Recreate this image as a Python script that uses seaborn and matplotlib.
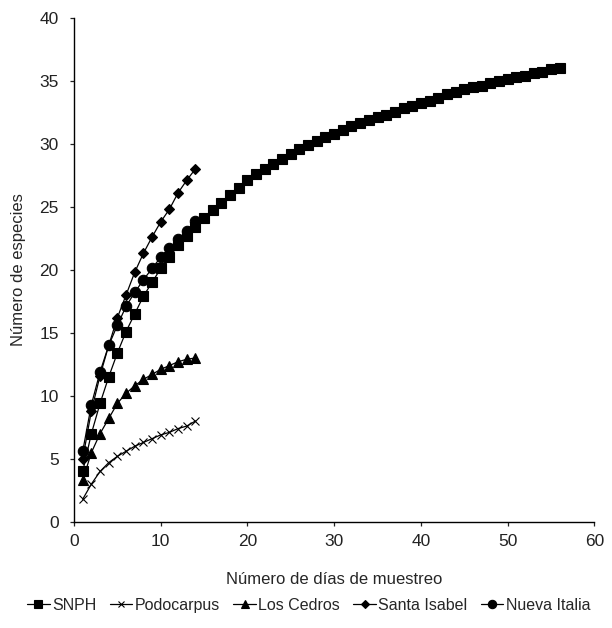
import matplotlib
matplotlib.use("Agg")
import matplotlib.pyplot as plt
import pandas as pd
import seaborn as sns

sns.set_style("ticks")
plt.rcParams["font.family"] = ["Liberation Sans", "DejaVu Sans"]

# curvas de acumulación de especies
days_short = list(range(1, 15))
days_snph = list(range(1, 57))

snph = [4.0, 7.0, 9.4, 11.5, 13.4, 15.1, 16.5, 17.9, 19.0, 20.1, 21.0, 22.0, 22.7, 23.4,
        24.1, 24.7, 25.3, 25.9, 26.5, 27.1, 27.6, 28.0, 28.4, 28.8, 29.2, 29.6, 29.9, 30.2,
        30.5, 30.8, 31.1, 31.4, 31.6, 31.9, 32.1, 32.3, 32.5, 32.8, 33.0, 33.2, 33.4, 33.6,
        33.9, 34.1, 34.3, 34.5, 34.6, 34.8, 35.0, 35.1, 35.3, 35.4, 35.6, 35.7, 35.9, 36.0]
podocarpus = [1.8, 3.0, 4.0, 4.7, 5.2, 5.6, 6.0, 6.3, 6.6, 6.9, 7.1, 7.4, 7.6, 8.0]
los_cedros = [3.3, 5.5, 7.0, 8.2, 9.4, 10.2, 10.8, 11.3, 11.7, 12.1, 12.4, 12.7, 12.9, 13.0]
santa_isabel = [5.0, 8.8, 11.6, 14.0, 16.2, 18.0, 19.8, 21.3, 22.6, 23.8, 24.8, 26.1, 27.1, 28.0]
nueva_italia = [5.6, 9.3, 11.9, 14.0, 15.6, 17.1, 18.2, 19.2, 20.1, 21.0, 21.7, 22.4, 23.1, 23.9]

sites = ["SNPH", "Podocarpus", "Los Cedros", "Santa Isabel", "Nueva Italia"]
markers = {"SNPH": "s", "Podocarpus": "x", "Los Cedros": "^",
           "Santa Isabel": "D", "Nueva Italia": "o"}
msizes = {"SNPH": 7, "Podocarpus": 6, "Los Cedros": 7, "Santa Isabel": 5.5, "Nueva Italia": 7.5}

series = {"SNPH": (days_snph, snph), "Podocarpus": (days_short, podocarpus),
          "Los Cedros": (days_short, los_cedros), "Santa Isabel": (days_short, santa_isabel),
          "Nueva Italia": (days_short, nueva_italia)}

fig = plt.figure(figsize=(6.12, 6.28), dpi=100)
ax = fig.add_axes([0.121, 0.169, 0.850, 0.803])

for site in sites:
    x, y = series[site]
    df = pd.DataFrame({"dias": x, "especies": y})
    sns.lineplot(data=df, x="dias", y="especies", ax=ax, color="black", lw=0.9,
                 marker=markers[site], markersize=msizes[site],
                 markeredgecolor="black", markerfacecolor="black",
                 markeredgewidth=0.8, label=site)

ax.set_xlim(0, 60)
ax.set_ylim(0, 40)
ax.set_xticks(range(0, 61, 10))
ax.set_yticks(range(0, 41, 5))
ax.tick_params(labelsize=12.5, length=3, width=0.9, colors="#222222")
ax.tick_params(axis="x", pad=6)
ax.tick_params(axis="y", pad=8)
for s in ["left", "bottom"]:
    ax.spines[s].set_linewidth(1.0)
    ax.spines[s].set_color("black")
sns.despine(ax=ax)
ax.set_xlabel("Número de días de muestreo", fontsize=12)
ax.set_ylabel("Número de especies", fontsize=12)
ax.xaxis.set_label_coords(0.5, -0.099)
ax.yaxis.set_label_coords(-0.093, 0.5)

ax.legend(loc="center", bbox_to_anchor=(0.451, -0.165), ncol=5, frameon=False,
          fontsize=11.5, handlelength=1.4, handletextpad=0.15, columnspacing=0.85,
          markerscale=0.8, borderaxespad=0)

fig.savefig("out.png", dpi=100)
plt.close(fig)
